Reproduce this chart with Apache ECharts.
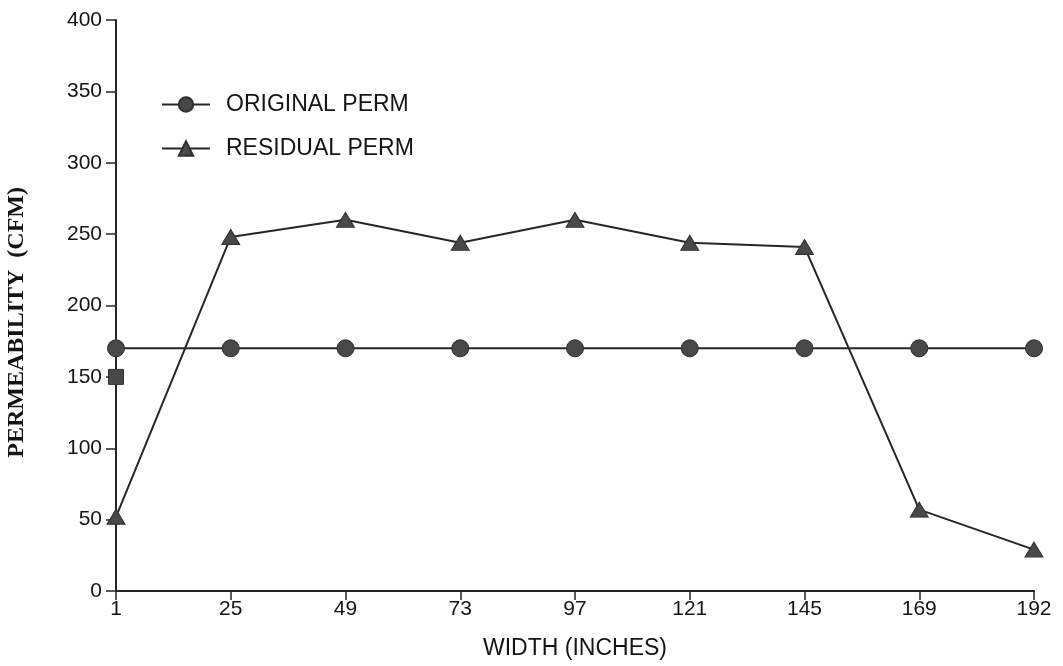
<!DOCTYPE html>
<html>
<head>
<meta charset="utf-8">
<script src="https://cdn.jsdelivr.net/npm/echarts@6/dist/echarts.min.js"></script>
<style>html,body{margin:0;padding:0;background:#fff;}#c{width:1063px;height:666px;}</style>
</head>
<body>
<div id="c"></div>
<script>
const categories = ['1','25','49','73','97','121','145','169','192'];
const originalPerm = [170,170,170,170,170,170,170,170,170];
const residualPerm = [52,248,260,244,260,244,241,57,29];
const extraPoint = [['1',150]];
const yTicks = [0,50,100,150,200,250,300,350,400];
const xTitle = 'WIDTH (INCHES)';
const yTitle = 'PERMEABILITY  (CFM)';

const chart = echarts.init(document.getElementById('c'), null, {renderer:'canvas'});
const lineCol = '#262626';
const markCol = '#484848';
const font = 'Liberation Sans, Arial, sans-serif';
const txtCol = '#141414';
chart.setOption({
  animation:false,
  backgroundColor:'#ffffff',
  grid:{left:116,right:29,top:20,bottom:75,containLabel:false},
  legend:{
    left:156, top:88, orient:'vertical', itemGap:21, itemWidth:48, itemHeight:18,
    data:['ORIGINAL PERM','RESIDUAL PERM'],
    textStyle:{fontFamily:font,fontSize:23,color:txtCol,padding:[0,0,0,11]}
  },
  graphic:[{
    type:'text', left:5, top:187, rotation:Math.PI/2,
    style:{text:yTitle, font:'bold 24px "Liberation Serif", "Times New Roman", serif', fill:txtCol}
  }],
  xAxis:{
    type:'category', data:categories, boundaryGap:false,
    name:xTitle, nameLocation:'middle', nameGap:46,
    nameTextStyle:{fontFamily:font,fontSize:23,color:txtCol},
    axisLine:{lineStyle:{color:lineCol,width:2}},
    axisTick:{show:true,alignWithLabel:true,length:9,lineStyle:{color:lineCol,width:1.5}},
    axisLabel:{fontFamily:font,fontSize:21,color:txtCol,margin:8},
    splitLine:{show:false}
  },
  yAxis:{
    type:'value', min:0, max:400, interval:50,
    axisLine:{show:true,lineStyle:{color:lineCol,width:2}},
    axisTick:{show:true,length:10,lineStyle:{color:lineCol,width:1.5}},
    axisLabel:{fontFamily:font,fontSize:21,color:txtCol,margin:14,
      formatter:function(v){return yTicks.indexOf(v)>=0?String(v):'';}},
    splitLine:{show:false}
  },
  series:[
    {name:'ORIGINAL PERM',type:'line',data:originalPerm,symbol:'circle',symbolSize:17,
     lineStyle:{color:lineCol,width:2},itemStyle:{color:markCol,borderColor:'#303030',borderWidth:1}},
    {name:'RESIDUAL PERM',type:'line',data:residualPerm,symbol:'triangle',symbolSize:[18,15],
     lineStyle:{color:lineCol,width:2},itemStyle:{color:markCol,borderColor:'#303030',borderWidth:1}},
    {name:'point',type:'scatter',data:extraPoint,symbol:'rect',symbolSize:15,z:5,
     itemStyle:{color:markCol,borderColor:'#303030',borderWidth:1,opacity:1}}
  ]
});
</script>
</body>
</html>
